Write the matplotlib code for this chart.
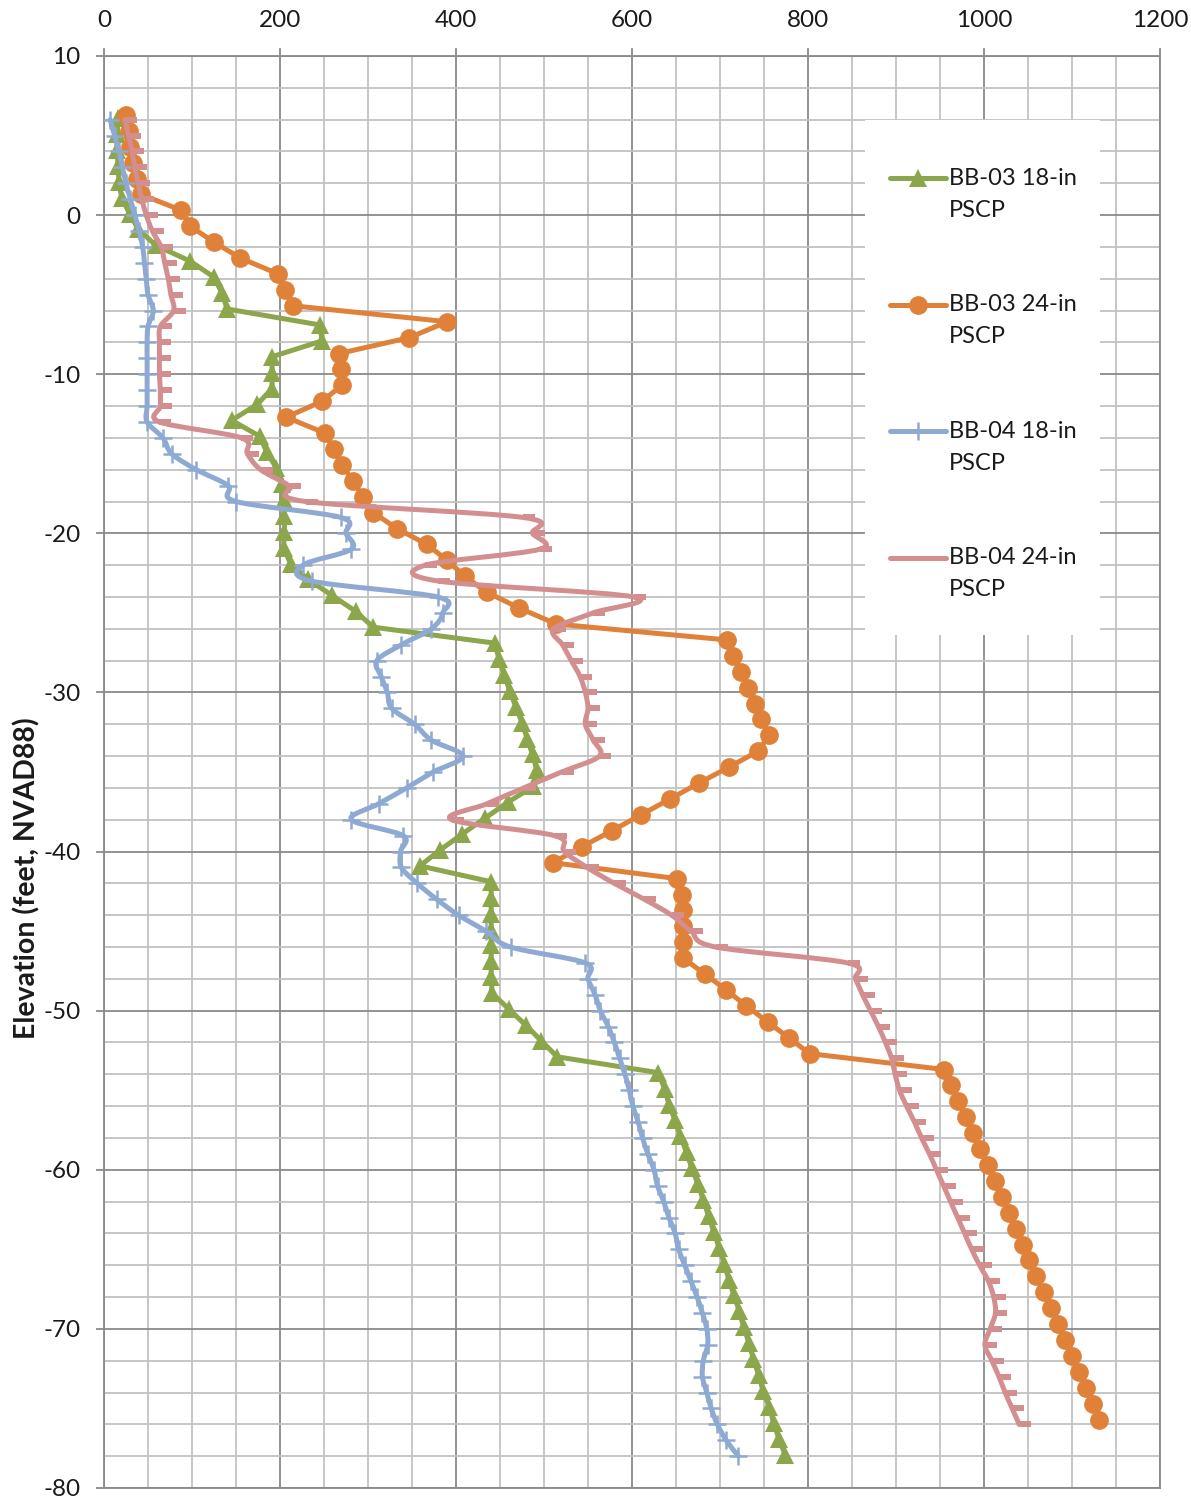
import numpy as np
import matplotlib
matplotlib.use("Agg")
import matplotlib.pyplot as plt
from matplotlib.path import Path
from matplotlib.patches import PathPatch, Rectangle
from matplotlib.ticker import MultipleLocator

plt.rcParams['font.family'] = ['Lato', 'DejaVu Sans']
plt.rcParams['axes.unicode_minus'] = False

# Pile capacity (kips) against elevation (ft, NAVD88), one reading per foot
elev_bb03_18 = [6.1, 5.1, 4.1, 3.1, 2.1, 1.1, 0.1, -0.9, -1.9, -2.9,
                -3.9, -4.9, -5.9, -6.9, -7.9, -8.9, -9.9, -10.9, -11.9, -12.9,
                -13.9, -14.9, -15.9, -16.9, -17.9, -18.9, -19.9, -20.9, -21.9, -22.9,
                -23.9, -24.9, -25.9, -26.9, -27.9, -28.9, -29.9, -30.9, -31.9, -32.9,
                -33.9, -34.9, -35.9, -36.9, -37.9, -38.9, -39.9, -40.9, -41.9, -42.9,
                -43.9, -44.9, -45.9, -46.9, -47.9, -48.9, -49.9, -50.9, -51.9, -52.9,
                -53.9, -54.9, -55.9, -56.9, -57.9, -58.9, -59.9, -60.9, -61.9, -62.9,
                -63.9, -64.9, -65.9, -66.9, -67.9, -68.9, -69.9, -70.9, -71.9, -72.9,
                -73.9, -74.9, -75.9, -76.9, -77.9]
cap_bb03_18 = [16, 15, 15, 16, 17, 20, 29, 39, 59, 98,
               125, 134, 140, 245, 248, 191, 191, 191, 174, 145,
               177, 185, 196, 202, 204, 205, 205, 204, 212, 232,
               259, 286, 306, 444, 449, 455, 461, 468, 475, 481,
               487, 492, 488, 459, 433, 407, 382, 359, 440, 440,
               440, 440, 440, 440, 440, 441, 460, 479, 497, 515,
               630, 637, 642, 649, 655, 662, 668, 675, 681, 687,
               693, 699, 705, 710, 716, 722, 727, 733, 738, 744,
               749, 756, 761, 767, 774]

elev_bb03_24 = [6.3, 5.3, 4.3, 3.3, 2.3, 1.3, 0.3, -0.7, -1.7, -2.7,
                -3.7, -4.7, -5.7, -6.7, -7.7, -8.7, -9.7, -10.7, -11.7, -12.7,
                -13.7, -14.7, -15.7, -16.7, -17.7, -18.7, -19.7, -20.7, -21.7, -22.7,
                -23.7, -24.7, -25.7, -26.7, -27.7, -28.7, -29.7, -30.7, -31.7, -32.7,
                -33.7, -34.7, -35.7, -36.7, -37.7, -38.7, -39.7, -40.7, -41.7, -42.7,
                -43.7, -44.7, -45.7, -46.7, -47.7, -48.7, -49.7, -50.7, -51.7, -52.7,
                -53.7, -54.7, -55.7, -56.7, -57.7, -58.7, -59.7, -60.7, -61.7, -62.7,
                -63.7, -64.7, -65.7, -66.7, -67.7, -68.7, -69.7, -70.7, -71.7, -72.7,
                -73.7, -74.7, -75.7]
cap_bb03_24 = [25, 28, 30, 33, 37, 42, 88, 98, 125, 155,
               198, 206, 215, 390, 347, 267, 269, 270, 248, 207,
               251, 261, 270, 283, 294, 306, 333, 367, 390, 410,
               435, 472, 514, 708, 715, 724, 732, 740, 747, 756,
               743, 710, 676, 643, 610, 577, 543, 510, 651, 657,
               658, 658, 658, 658, 683, 707, 730, 754, 778, 802,
               955, 963, 971, 979, 987, 995, 1004, 1012, 1020, 1028,
               1036, 1044, 1051, 1059, 1068, 1076, 1084, 1092, 1100, 1108,
               1116, 1124, 1131]

elev_bb04_18 = [6, 5, 4, 3, 2, 1, 0, -1, -2, -3,
                -4, -5, -6, -7, -8, -9, -10, -11, -12, -13,
                -14, -15, -16, -17, -18, -19, -20, -21, -22, -23,
                -24, -25, -26, -27, -28, -29, -30, -31, -32, -33,
                -34, -35, -36, -37, -38, -39, -40, -41, -42, -43,
                -44, -45, -46, -47, -48, -49, -50, -51, -52, -53,
                -54, -55, -56, -57, -58, -59, -60, -61, -62, -63,
                -64, -65, -66, -67, -68, -69, -70, -71, -72, -73,
                -74, -75, -76, -77, -78]
cap_bb04_18 = [7, 12, 17, 21, 25, 30, 35, 40, 44, 46,
               48, 50, 56, 50, 49, 49, 49, 49, 49, 49,
               67, 77, 105, 141, 150, 269, 275, 281, 226, 236,
               379, 385, 372, 338, 310, 315, 322, 327, 353, 372,
               408, 374, 344, 312, 281, 340, 337, 338, 356, 378,
               403, 434, 462, 547, 550, 558, 564, 573, 580, 586,
               592, 597, 601, 607, 612, 618, 625, 629, 636, 642,
               649, 653, 660, 667, 674, 680, 685, 686, 681, 680,
               685, 690, 697, 707, 721]

elev_bb04_24 = [6, 5, 4, 3, 2, 1, 0, -1, -2, -3,
                -4, -5, -6, -7, -8, -9, -10, -11, -12, -13,
                -14, -15, -16, -17, -18, -19, -20, -21, -22, -23,
                -24, -25, -26, -27, -28, -29, -30, -31, -32, -33,
                -34, -35, -36, -37, -38, -39, -40, -41, -42, -43,
                -44, -45, -46, -47, -48, -49, -50, -51, -52, -53,
                -54, -55, -56, -57, -58, -59, -60, -61, -62, -63,
                -64, -65, -66, -67, -68, -69, -70, -71, -72, -73,
                -74, -75, -76]
cap_bb04_24 = [24, 28, 32, 35, 39, 43, 48, 55, 65, 69,
               73, 76, 79, 64, 63, 63, 63, 64, 64, 63,
               156, 163, 178, 210, 229, 476, 487, 495, 365, 380,
               602, 556, 511, 521, 531, 541, 547, 550, 547, 556,
               563, 520, 477, 435, 395, 512, 523, 549, 580, 614,
               645, 667, 695, 845, 854, 862, 871, 880, 888, 895,
               899, 904, 912, 921, 929, 938, 946, 954, 962, 970,
               978, 986, 995, 1005, 1011, 1013, 1007, 1001, 1009, 1017,
               1024, 1032, 1040]

labels = ["BB-03 18-in\nPSCP", "BB-03 24-in\nPSCP", "BB-04 18-in\nPSCP", "BB-04 24-in\nPSCP"]
colors = ["#8BA64B", "#DF8139", "#8FAAD2", "#D38E90"]

# short bar sitting to the right of the point
dash_right = Path([(0, -0.22), (1, -0.22), (1, 0.22), (0, 0.22), (0, -0.22)],
                  [Path.MOVETO, Path.LINETO, Path.LINETO, Path.LINETO, Path.CLOSEPOLY])

marker_styles = [
    dict(marker="^", ms=13, mew=0),
    dict(marker="o", ms=13.5, mew=0),
    dict(marker="+", ms=13.5, mew=1.8),
    dict(marker=dash_right, ms=17, mew=0),
]
smoothed = [False, False, True, True]

series_x = [cap_bb03_18, cap_bb03_24, cap_bb04_18, cap_bb04_24]
series_y = [elev_bb03_18, elev_bb03_24, elev_bb04_18, elev_bb04_24]

LW = 3.6


def smooth_path(xs, ys):
    # cubic bezier through every point, tangents from the neighbours
    pts = np.column_stack([xs, ys]).astype(float)
    n = len(pts)
    verts = [pts[0]]
    codes = [Path.MOVETO]
    for i in range(n - 1):
        p_prev = pts[i - 1] if i > 0 else pts[i]
        p0 = pts[i]
        p1 = pts[i + 1]
        p_next = pts[i + 2] if i + 2 < n else p1
        verts += [p0 + (p1 - p_prev) / 6.0, p1 - (p_next - p0) / 6.0, p1]
        codes += [Path.CURVE4] * 3
    return Path(verts, codes)


fig = plt.figure(figsize=(11.91, 15.0), dpi=100)
ax = fig.add_axes([104 / 1191, 12 / 1500, 1056 / 1191, 1432 / 1500])

ax.set_xlim(0, 1200)
ax.set_ylim(-80, 10)
ax.xaxis.set_major_locator(MultipleLocator(200))
ax.xaxis.set_minor_locator(MultipleLocator(50))
ax.yaxis.set_major_locator(MultipleLocator(10))
ax.yaxis.set_minor_locator(MultipleLocator(2))
ax.xaxis.tick_top()
ax.set_axisbelow(True)
ax.grid(which="major", color="#8A8A8A", lw=1.3)
ax.grid(which="minor", color="#C2C2C2", lw=1.3)
ax.tick_params(which="minor", length=0)
ax.tick_params(which="major", length=6, width=1.3, color="#8A8A8A",
               labelsize=17.5, labelcolor="#1a1a1a")
ax.tick_params(axis="y", pad=11)
ax.tick_params(axis="x", pad=12)
for side in ["left", "top", "right", "bottom"]:
    ax.spines[side].set_color("#8A8A8A")
    ax.spines[side].set_linewidth(1.3)

for i in range(4):
    z = 3 + i
    if smoothed[i]:
        ax.add_patch(PathPatch(smooth_path(series_x[i], series_y[i]), facecolor="none",
                               edgecolor=colors[i], lw=LW, capstyle="round",
                               joinstyle="round", zorder=z))
        ax.plot(series_x[i], series_y[i], ls="none", color=colors[i], zorder=z,
                **marker_styles[i])
    else:
        ax.plot(series_x[i], series_y[i], color=colors[i], lw=LW,
                solid_joinstyle="round", solid_capstyle="round", zorder=z,
                **marker_styles[i])

# legend panel drawn by hand so the handle sits on the first text line
ax.add_patch(Rectangle((0.7206, 0.5957), 0.2225, 0.3596, transform=ax.transAxes,
                       facecolor="white", edgecolor="none", zorder=2))
line_gap = 32 / 1432
for i in range(4):
    y0 = 0.9148 - i * 0.0884
    mk = dict(marker_styles[i])
    if i == 3:
        mk = dict(marker="None")
    ax.plot([0.744, 0.7705, 0.797], [y0, y0, y0], transform=ax.transAxes,
            color=colors[i], lw=LW, solid_capstyle="round", markevery=[1],
            zorder=8, clip_on=False, **mk)
    for j, part in enumerate(labels[i].split("\n")):
        ax.text(0.800, y0 - j * line_gap, part, transform=ax.transAxes, ha="left",
                va="center", fontsize=17, color="#1a1a1a", zorder=8)

fig.text(0.0227, 0.4147, "Elevation (feet, NVAD88)", rotation=90, ha="center",
         va="center", fontsize=20.5, fontweight="bold", color="#1a1a1a")

fig.savefig("out.png", dpi=100)
